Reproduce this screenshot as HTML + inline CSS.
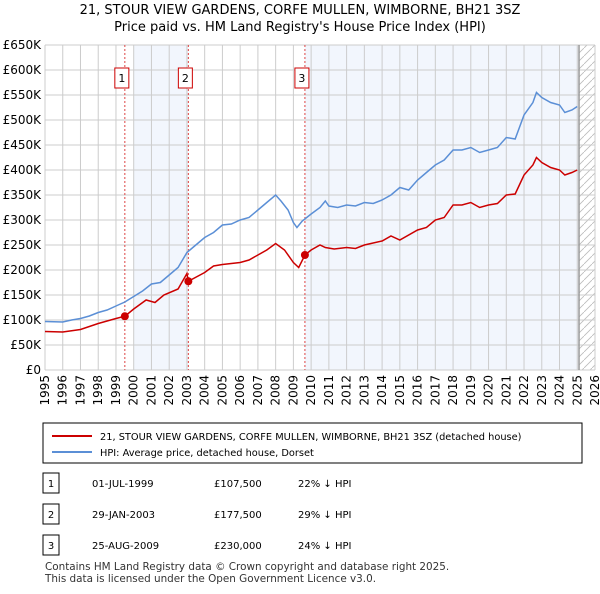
<!DOCTYPE html>
<html><head><meta charset="utf-8"><style>
body{margin:0;background:#fff;font-family:"DejaVu Sans",sans-serif;}
svg text{font-family:"DejaVu Sans",sans-serif;}
</style></head><body>
<svg width="600" height="590" viewBox="0 0 600 590">
<text x="300" y="14" text-anchor="middle" font-size="13">21, STOUR VIEW GARDENS, CORFE MULLEN, WIMBORNE, BH21 3SZ</text>
<text x="300" y="31" text-anchor="middle" font-size="13">Price paid vs. HM Land Registry's House Price Index (HPI)</text>
<g id="plot"></g>
<rect x="43" y="423" width="539" height="40" fill="#fff" stroke="#000"/>
<line x1="52" y1="436" x2="92" y2="436" stroke="#cc0000" stroke-width="2"/>
<text x="100" y="440" font-size="9.8">21, STOUR VIEW GARDENS, CORFE MULLEN, WIMBORNE, BH21 3SZ (detached house)</text>
<line x1="52" y1="452" x2="92" y2="452" stroke="#5b8fd6" stroke-width="2"/>
<text x="100" y="456" font-size="9.8">HPI: Average price, detached house, Dorset</text>
<g id="table" font-size="10"></g>
<text x="45" y="570" font-size="10.4" fill="#333">Contains HM Land Registry data © Crown copyright and database right 2025.</text>
<text x="45" y="582" font-size="10.4" fill="#333">This data is licensed under the Open Government Licence v3.0.</text>
</svg>
<script>
const yTicks=[0,50,100,150,200,250,300,350,400,450,500,550,600,650];
const yTickLabels=["£0","£50K","£100K","£150K","£200K","£250K","£300K","£350K","£400K","£450K","£500K","£550K","£600K","£650K"];
const xYears=[1995,1996,1997,1998,1999,2000,2001,2002,2003,2004,2005,2006,2007,2008,2009,2010,2011,2012,2013,2014,2015,2016,2017,2018,2019,2020,2021,2022,2023,2024,2025,2026];
const hpiT=[1995,1996,1996.5,1997,1997.5,1998,1998.5,1999,1999.5,2000,2000.5,2001,2001.5,2002,2002.5,2003,2003.5,2004,2004.5,2005,2005.5,2006,2006.5,2007,2007.5,2008,2008.3,2008.7,2009,2009.2,2009.5,2010,2010.5,2010.8,2011,2011.5,2012,2012.5,2013,2013.5,2014,2014.5,2015,2015.5,2016,2016.5,2017,2017.5,2018,2018.5,2019,2019.5,2020,2020.5,2021,2021.5,2022,2022.5,2022.7,2023,2023.5,2024,2024.3,2024.7,2025];
const hpiV=[97,96,100,103,108,115,120,128,136,147,158,172,175,190,205,235,250,265,275,290,292,300,305,320,335,350,338,320,295,285,298,312,325,338,328,325,330,328,335,333,340,350,365,360,380,395,410,420,440,440,445,435,440,445,465,462,510,535,555,545,535,530,515,520,527];
const redT=[1995,1996,1997,1998,1999,1999.5,2000,2000.7,2001.2,2001.7,2002.5,2003,2003.08,2004,2004.5,2005,2006,2006.5,2007,2007.5,2008,2008.5,2009,2009.3,2009.65,2010,2010.5,2010.8,2011.3,2012,2012.5,2013,2014,2014.5,2015,2016,2016.5,2017,2017.5,2018,2018.5,2019,2019.5,2020,2020.5,2021,2021.5,2022,2022.5,2022.7,2023,2023.5,2024,2024.3,2024.7,2025];
const redV=[77,76,81,93,103,107.5,122,140,135,150,162,193,177.5,195,208,211,215,220,230,240,253,240,215,205,230,240,250,245,242,245,243,250,258,268,260,280,285,300,305,330,330,335,325,330,333,350,352,390,410,425,415,405,400,390,395,400];
const saleT=[1999.5,2003.08,2009.65];
const saleV=[107.5,177.5,230];
const saleLabels=["1","2","3"];
const saleDates=["01-JUL-1999","29-JAN-2003","25-AUG-2009"];
const salePrices=["£107,500","£177,500","£230,000"];
const saleHpi=["22% ↓ HPI","29% ↓ HPI","24% ↓ HPI"];
const NS="http://www.w3.org/2000/svg";
const X0=45,X1=595,Y0=370,Y1=45;
const xs=t=>X0+(t-1995)/(2026-1995)*(X1-X0);
const ys=v=>Y0-v/650*(Y0-Y1);
const plot=document.getElementById('plot');
function mk(tag,a,p){const e=document.createElementNS(NS,tag);for(const k in a)e.setAttribute(k,a[k]);(p||plot).appendChild(e);return e;}
let e;
e=mk('rect',{x:xs(2000),y:Y1,width:xs(2003.08)-xs(2000),height:Y0-Y1,fill:'#f2f6fd'});


e=mk('rect',{x:xs(2009.65),y:Y1,width:xs(2025.1)-xs(2009.65),height:Y0-Y1,fill:'#f2f6fd'});


const defs=mk('defs',{});
const pat=mk('pattern',{id:'hatch',width:8,height:8,patternUnits:'userSpaceOnUse'},defs);
mk('path',{d:'M0,8 L8,0',stroke:'#bbb','stroke-width':0.8},pat);
e=mk('rect',{x:xs(2025.1),y:Y1,width:X1-xs(2025.1),height:Y0-Y1,fill:'url(#hatch)'});


yTicks.forEach((v,i)=>{
 e=mk('line',{x1:X0,x2:X1,y1:ys(v),y2:ys(v),stroke:'#ccc'});
 
 
 e=mk('text',{x:X0-4,y:ys(v)+4,'text-anchor':'end','font-size':12});
 e.textContent=yTickLabels[i];
 
 
});
xYears.forEach(y=>{
 e=mk('line',{x1:xs(y),x2:xs(y),y1:Y1,y2:Y0,stroke:'#ccc'});
 
 
 e=mk('text',{x:0,y:0,'text-anchor':'end','font-size':12,transform:`translate(${xs(y)+4},${Y0+5}) rotate(-90)`});
 e.textContent=y;
 
 
});
e=mk('line',{x1:xs(2025.1),x2:xs(2025.1),y1:Y1,y2:Y0,stroke:'#999','stroke-width':1.5});


saleT.forEach((t,i)=>{
 e=mk('line',{x1:xs(t),x2:xs(t),y1:Y1,y2:Y0,stroke:'#dd4444','stroke-dasharray':'2,2'});
 
 
 e=mk('rect',{x:xs(t)-10,y:68,width:14,height:20,fill:'#fff',stroke:'#cc0000'});
 
 
 e=mk('text',{x:xs(t)-3,y:82,'text-anchor':'middle','font-size':11});
 e.textContent=saleLabels[i];
 
 
});
e=mk('polyline',{points:hpiT.map((t,i)=>xs(t)+','+ys(hpiV[i])).join(' '),fill:'none',stroke:'#5b8fd6','stroke-width':1.5});


e=mk('polyline',{points:redT.map((t,i)=>xs(t)+','+ys(redV[i])).join(' '),fill:'none',stroke:'#cc0000','stroke-width':1.5});


saleT.forEach((t,i)=>{
 e=mk('circle',{cx:xs(t),cy:ys(saleV[i]),r:4,fill:'#cc0000'});
 
 
});
const tbl=document.getElementById('table');
const rowY=[483,514,545];
rowY.forEach((y,i)=>{
 e=mk('rect',{x:43,y:y-10,width:16,height:20,fill:'#fff',stroke:'#000'},tbl);
 
 
 const vals=[[51,saleLabels[i],'middle'],[92,saleDates[i],'start'],[214,salePrices[i],'start'],[298,saleHpi[i],'start']];
 vals.forEach(v=>{
  e=mk('text',{x:v[0],y:y+4,'text-anchor':v[2]},tbl);
  e.textContent=v[1];
  
  
 });
});
</script>
</body></html>
